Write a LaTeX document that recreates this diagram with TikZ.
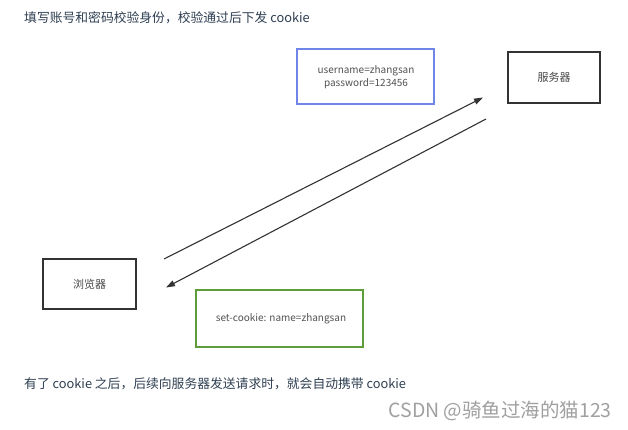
\documentclass[tikz,border=0pt]{standalone}
\usepackage{fontspec}
\setmainfont{Noto Sans CJK SC}
\usetikzlibrary{arrows.meta}
\definecolor{txt}{HTML}{2F3F52}
\definecolor{boxline}{HTML}{333333}
\definecolor{bluebox}{HTML}{6F86E8}
\definecolor{greenbox}{HTML}{5E9E3A}
\definecolor{wm}{HTML}{A0A0A0}
\begin{document}
\begin{tikzpicture}[x=1pt,y=-1pt,
  plain/.style={draw=boxline,line width=1.3pt,inner sep=0pt},
  bluebx/.style={draw=bluebox,line width=1.3pt,inner sep=0pt},
  greenbx/.style={draw=greenbox,line width=1.3pt,inner sep=0pt},
  conn/.style={draw=boxline,line width=1.1pt,-{Triangle[length=9pt,width=6pt]}},
  note/.style={text=txt,font=\fontsize{12.8}{15}\selectfont,anchor=west,inner sep=0pt}]
\useasboundingbox (0,0) rectangle (628,430);
\fill[white] (0,0) rectangle (628,430);
% boxes
\draw[plain] (508,52) rectangle (600,103);
\node[text=boxline!90,font=\fontsize{11}{13}\selectfont] (server) at (554,77.5) {服务器};
\draw[plain] (43,259) rectangle (136,309);
\node[text=boxline!90,font=\fontsize{11}{13}\selectfont] (browser) at (89.5,284) {浏览器};
\draw[bluebx] (297,49) rectangle (434,104);
\node[text=boxline!85,font=\fontsize{10}{12.5}\selectfont,align=center] (cred) at (366,77) {username=zhangsan\\password=123456};
\draw[greenbx] (196,290) rectangle (363,347);
\node[text=boxline!85,font=\fontsize{10}{12}\selectfont] (setc) at (281,318.5) {set-cookie: name=zhangsan};
% connectors
\coordinate (a1s) at (164,259);
\coordinate (a1e) at (483,97.5);
\coordinate (a2s) at (486,119);
\coordinate (a2e) at (166,287.5);
\draw[conn] (a1s) -- (a1e);
\draw[conn] (a2s) -- (a2e);
% texts
\node[note] (top) at (24,18) {填写账号和密码校验身份，校验通过后下发 cookie};
\node[note] (bottom) at (24,384) {有了 cookie 之后，后续向服务器发送请求时，就会自动携带 cookie};
\node[text=wm,font=\fontsize{19.5}{21}\selectfont,anchor=east,inner sep=0pt] (wmk) at (612,411) {CSDN @骑鱼过海的猫123};
\end{tikzpicture}
\end{document}
